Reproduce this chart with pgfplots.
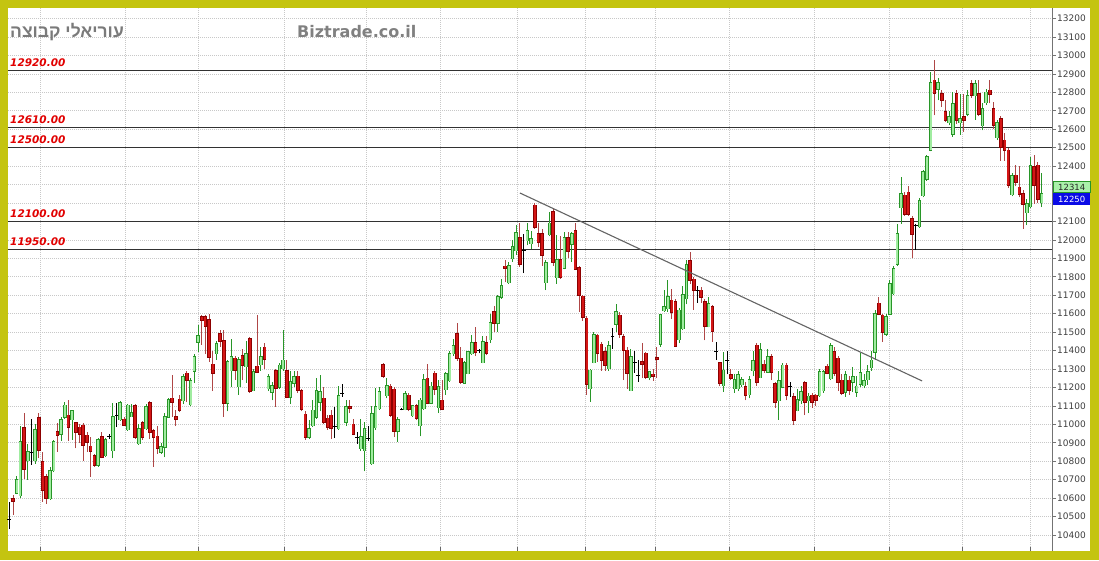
\documentclass[border=0pt]{standalone}
\usepackage{fontspec}
\setmainfont{DejaVu Sans}
\newfontfamily\hebfont[Script=Hebrew]{Liberation Sans}
\TeXXeTstate=1
\usepackage{pgfplots}
\usepackage{pgfplotstable}
\pgfplotsset{compat=1.18}

\definecolor{framec}{RGB}{196,196,16}
\definecolor{upfill}{RGB}{160,236,160}
\definecolor{upedge}{RGB}{40,150,40}
\definecolor{dnfill}{RGB}{212,22,22}
\definecolor{dnedge}{RGB}{140,0,0}
\definecolor{dnwick}{RGB}{175,70,70}
\definecolor{gridc}{RGB}{200,200,200}
\definecolor{levelc}{RGB}{50,50,50}
\definecolor{trendc}{RGB}{100,100,100}
\definecolor{labelred}{RGB}{225,0,0}
\definecolor{boxgreen}{RGB}{170,240,170}
\definecolor{boxblue}{RGB}{10,10,230}

\pgfplotsset{
  cbar/.style n args={2}{draw=none, mark=none, forget plot,
     error bars/.cd, y dir=both, y explicit, error mark=none,
     error bar style={solid, line width=#1, draw=#2}},
}

% green (up) candles: index open high low close
\pgfplotstableread{
i o h l c
2 10630 10720 10620 10700
3 10617 10990 10600 10905
5 10805 10895 10700 10850
7 10806 11000 10785 10972
11 10600 10770 10590 10750
12 10752 10915 10740 10905
14 10950 11040 10910 11027
15 11041 11120 11030 11104
17 11027 11080 10915 11073
24 10780 10925 10770 10915
26 10833 10925 10825 10918
28 10860 11115 10815 11041
30 11027 11125 11020 11116
32 10975 11110 10965 11104
33 11045 11110 11040 11062
35 10897 11000 10890 10978
37 10978 11110 10970 11095
41 10851 10900 10840 10878
42 10878 11060 10820 11044
43 11041 11140 11035 11135
47 11131 11270 11110 11257
49 11110 11250 11100 11239
50 11290 11380 11225 11366
51 11447 11540 11390 11483
56 11384 11450 11350 11438
59 11117 11350 11070 11338
60 11294 11460 11200 11366
62 11207 11365 11160 11352
64 11315 11450 11225 11384
66 11185 11300 11180 11285
68 11326 11420 11290 11366
70 11195 11270 11180 11257
71 11176 11230 11130 11212
73 11203 11330 11190 11321
74 11303 11510 11290 11348
76 11149 11290 11110 11230
77 11225 11290 11200 11261
81 10932 11025 10920 10978
82 10996 11130 10985 11077
83 11041 11250 11030 11182
84 11122 11267 11070 11176
89 10978 11210 10970 11158
91 11014 11130 10990 11095
95 10870 11030 10855 10932
96 10860 11010 10745 10978
98 10788 11100 10780 11059
99 10983 11195 10970 11095
100 11086 11200 11080 11176
102 11158 11250 11140 11212
105 10965 11040 10905 11027
107 11081 11180 11075 11167
109 11050 11105 11040 11099
111 10996 11140 10935 11131
112 11086 11270 11080 11243
114 11117 11230 11110 11207
116 11092 11240 11060 11203
118 11189 11285 11160 11276
119 11239 11395 11230 11384
120 11384 11460 11370 11429
123 11225 11345 11220 11333
124 11276 11400 11270 11393
125 11384 11485 11375 11441
128 11338 11480 11330 11447
130 11460 11600 11440 11550
132 11550 11700 11500 11691
133 11691 11790 11680 11754
135 11772 11880 11760 11862
136 11899 12000 11880 11961
137 11944 12080 11920 12037
140 11998 12090 11970 12052
141 11981 12050 11950 12008
145 11772 11890 11727 11875
146 12030 12150 12020 12091
148 11799 12025 11763 11893
150 11850 12040 11840 12014
152 11980 12045 11880 12034
157 11195 11300 11122 11294
158 11338 11500 11330 11488
162 11303 11450 11290 11429
164 11546 11650 11500 11609
168 11185 11410 11180 11366
173 11254 11290 11240 11285
176 11438 11600 11420 11596
177 11619 11727 11610 11636
178 11628 11780 11610 11694
181 11460 11630 11440 11619
182 11520 11750 11510 11705
183 11682 11890 11650 11868
189 11532 11690 11525 11655
193 11212 11390 11176 11294
196 11195 11270 11170 11243
197 11195 11290 11180 11267
198 11218 11255 11200 11243
200 11164 11260 11140 11243
201 11294 11400 11260 11344
203 11257 11440 11250 11406
205 11285 11410 11280 11366
208 11131 11290 11025 11239
209 11203 11335 11195 11321
213 11077 11190 11070 11135
214 11131 11210 11110 11176
216 11131 11170 11060 11153
219 11158 11300 11150 11285
220 11185 11295 11170 11285
222 11249 11440 11240 11429
226 11176 11290 11150 11267
228 11230 11310 11175 11257
229 11176 11260 11150 11207
230 11221 11385 11200 11279
231 11212 11270 11195 11239
232 11243 11320 11215 11285
233 11308 11400 11290 11348
234 11393 11620 11350 11600
237 11492 11600 11480 11582
238 11600 11780 11590 11763
239 11710 11860 11700 11846
240 11871 12088 11860 12032
241 12178 12340 12088 12251
246 12073 12225 12065 12214
247 12241 12380 12230 12368
248 12332 12460 12320 12449
249 12489 12909 12480 12855
251 12819 12880 12756 12855
254 12638 12700 12620 12666
255 12576 12800 12560 12738
257 12638 12790 12570 12657
259 12684 12810 12670 12783
261 12783 12865 12650 12846
263 12621 12740 12593 12711
264 12747 12820 12730 12801
267 12557 12650 12540 12638
271 12247 12360 12235 12350
275 12151 12220 12080 12196
276 12182 12450 12170 12404
279 12205 12360 12178 12251
}\upT

% red (down) candles: index open high low close
\pgfplotstableread{
i o h l c
1 10597 10617 10510 10585
4 10980 11060 10705 10760
8 11035 11060 10815 10860
9 10797 10850 10580 10645
10 10716 10730 10570 10600
13 10960 11005 10850 10942
16 11050 11130 10910 10987
18 11008 11015 10870 10960
19 10985 11000 10900 10950
20 10995 11005 10800 10890
21 10940 10960 10850 10905
22 10880 10930 10715 10857
23 10830 10840 10770 10780
25 10932 10960 10815 10825
31 11027 11040 10990 10996
34 11100 11110 10920 10932
36 11008 11020 10915 10932
38 11116 11125 10920 10960
39 10965 10975 10770 10932
40 10936 10990 10840 10870
44 11140 11265 11040 11122
45 11040 11077 10990 11030
46 11135 11160 11065 11077
48 11276 11290 11120 11239
52 11582 11590 11430 11565
53 11582 11590 11380 11532
54 11568 11600 11340 11366
55 11326 11400 11180 11276
57 11492 11510 11420 11452
58 11452 11510 11040 11117
61 11357 11370 11240 11294
63 11370 11410 11240 11321
65 11465 11475 11170 11182
67 11315 11590 11280 11285
69 11417 11440 11300 11352
72 11290 11300 11095 11195
75 11290 11350 11140 11150
78 11261 11290 11170 11185
79 11182 11190 11070 11081
80 11055 11070 10915 10932
85 11140 11200 11000 11014
86 11032 11050 10970 10987
87 11050 11080 10920 10978
92 11095 11130 11060 11088
93 11001 11030 10940 10947
101 11324 11335 11250 11261
103 11207 11220 11040 11050
104 11190 11200 10930 10965
108 11158 11170 11070 11081
110 11099 11110 11025 11032
113 11249 11325 11110 11117
115 11276 11290 11160 11189
117 11131 11240 11075 11081
121 11492 11550 11345 11357
122 11357 11420 11220 11230
126 11441 11530 11370 11393
129 11441 11480 11375 11384
131 11609 11640 11500 11550
134 11857 11890 11770 11850
138 12010 12090 11855 11870
142 12187 12200 12060 12070
143 12034 12090 11960 11990
144 12034 12060 11860 11916
147 12151 12165 11860 11880
149 11893 12020 11790 11799
151 12012 12040 11900 11940
153 12048 12090 11840 11844
154 11850 11860 11610 11700
155 11694 11700 11560 11582
156 11574 11585 11160 11218
159 11483 11490 11340 11384
160 11434 11445 11290 11348
161 11393 11420 11290 11321
165 11591 11610 11470 11492
166 11474 11490 11240 11402
167 11402 11420 11190 11276
171 11338 11440 11250 11326
172 11384 11390 11245 11254
174 11272 11300 11235 11262
175 11362 11420 11250 11352
179 11673 11735 11570 11609
180 11664 11680 11420 11424
184 11886 11935 11760 11781
185 11785 11800 11620 11727
187 11727 11745 11660 11688
188 11664 11680 11455 11532
190 11636 11645 11447 11507
192 11333 11340 11205 11225
195 11267 11300 11240 11249
199 11203 11230 11130 11158
202 11429 11440 11210 11230
204 11326 11350 11280 11297
206 11366 11380 11240 11285
207 11221 11230 11090 11122
210 11321 11330 11130 11158
212 11149 11170 10995 11023
215 11225 11235 11050 11122
217 11158 11170 11090 11122
218 11158 11165 11100 11131
221 11315 11325 11270 11276
223 11393 11420 11260 11276
224 11357 11370 11180 11230
225 11239 11270 11160 11171
227 11239 11260 11160 11185
235 11655 11690 11590 11600
236 11590 11600 11447 11500
242 12241 12260 12130 12142
243 12259 12290 12130 12142
244 12115 12130 11900 12034
250 12864 12975 12675 12795
252 12792 12810 12720 12756
253 12693 12760 12640 12648
256 12792 12810 12630 12648
258 12666 12790 12585 12648
260 12846 12865 12770 12783
262 12792 12865 12670 12684
265 12810 12868 12740 12792
266 12711 12750 12600 12621
268 12657 12670 12430 12503
269 12539 12580 12430 12485
270 12485 12500 12280 12296
272 12350 12405 12290 12313
273 12286 12400 12230 12251
274 12251 12270 12060 12193
277 12395 12458 12196 12296
278 12404 12420 12200 12220
}\dnT

% doji candles: index open(=close) high low
\pgfplotstableread{
i o h l
0 10485 10580 10435
6 10846 11030 10780
27 10932 10945 10920
29 11046 11115 10985
88 10990 11095 10925
90 11167 11220 11150
94 10929 10960 10895
97 10924 10990 10910
106 11081 11090 11075
127 11398 11410 11385
139 11940 12030 11820
163 11478 11520 11410
169 11333 11400 11280
170 11267 11350 11230
186 11727 11750 11660
191 11393 11447 11348
194 11344 11400 11270
211 11203 11230 11150
245 12079 12085 11944
}\djT

\begin{document}
\begin{tikzpicture}
\useasboundingbox (0,0) rectangle (1099pt,560pt);
\fill[framec] (0,0) rectangle (1099pt,560pt);
\fill[white] (8pt,9pt) rectangle (1090pt,552pt);

\begin{axis}[
  at={(8pt,9pt)}, anchor=south west,
  scale only axis, width=1044pt, height=543pt,
  xmin=-0.35, xmax=281.8, ymin=10313, ymax=13257,
  axis line style={draw=none},
  xtick={8.3,31.3,51,74.2,96.4,116.4,137.2,155.6,174.5,194.5,217.5,237.8,257.5,275.9},
  xticklabels={},
  xtick pos=left, xtick align=inside,
  xtick style={draw=black!60, line width=0.6pt},
  ytick={10400,10500,...,12100,12400,12500,...,13200},
  extra y ticks={12200,12300},
  extra y tick labels={},
  extra y tick style={grid=major},
  ytick pos=right, ytick align=outside,
  yticklabel pos=right,
  minor y tick num=1,
  ytick style={draw=black!55, line width=0.6pt},
  major tick length=4pt, minor tick length=2pt,
  grid=major,
  major grid style={draw=gridc, dash pattern=on 1pt off 1pt, line width=0.6pt},
  scaled y ticks=false,
  /pgf/number format/assume math mode=true,
  yticklabel style={font=\fontsize{9}{9}\selectfont, text=black!75, inner sep=1pt,
     /pgf/number format/1000 sep={}},
]
% level lines
\addplot[levelc, line width=1pt, forget plot] coordinates {(-0.35,12920) (281.8,12920)};
\addplot[levelc, line width=1pt, forget plot] coordinates {(-0.35,12610) (281.8,12610)};
\addplot[levelc, line width=1pt, forget plot] coordinates {(-0.35,12500) (281.8,12500)};
\addplot[levelc, line width=1pt, forget plot] coordinates {(-0.35,12100) (281.8,12100)};
\addplot[levelc, line width=1pt, forget plot] coordinates {(-0.35,11950) (281.8,11950)};

% wicks
\addplot[cbar={0.9pt}{upedge}] table[x=i, y=l, y error plus expr=\thisrow{h}-\thisrow{l}, y error minus expr=0] {\upT};
\addplot[cbar={0.9pt}{dnwick}] table[x=i, y=l, y error plus expr=\thisrow{h}-\thisrow{l}, y error minus expr=0] {\dnT};
\addplot[cbar={0.9pt}{black}] table[x=i, y=l, y error plus expr=\thisrow{h}-\thisrow{l}, y error minus expr=0] {\djT};
% bodies
\addplot[cbar={3.6pt}{upedge}] table[x=i, y=o, y error plus expr=\thisrow{c}-\thisrow{o}+3, y error minus expr=3] {\upT};
\addplot[cbar={1.8pt}{upfill}] table[x=i, y=o, y error plus expr=\thisrow{c}-\thisrow{o}-2, y error minus expr=-2] {\upT};
\addplot[cbar={3.6pt}{dnedge}] table[x=i, y=c, y error plus expr=\thisrow{o}-\thisrow{c}+3, y error minus expr=3] {\dnT};
\addplot[cbar={2.0pt}{dnfill}] table[x=i, y=c, y error plus expr=\thisrow{o}-\thisrow{c}, y error minus expr=0] {\dnT};
\addplot[only marks, mark=-, mark size=1.9pt, mark options={black, line width=1pt}, forget plot] table[x=i, y=o] {\djT};

% trend line
\addplot[trendc, line width=1.1pt, forget plot] coordinates {(138,12254) (246.7,11235)};

% level labels
\foreach \v in {12920,12610,12500,12100,11950}{
  \edef\tmp{\noexpand\node[anchor=base west, inner sep=0pt, yshift=4pt, text=labelred,
     font=\noexpand\fontsize{10.5}{10.5}\noexpand\selectfont\noexpand\bfseries\noexpand\itshape]
     at (axis cs:0.2,\v) {\v.00};}
  \tmp
}
\end{axis}

% right axis line
\draw[black!55, line width=1pt] (1052pt,9pt) -- (1052pt,552pt);

% titles
\node[anchor=base west, inner sep=0pt, text=black!52] at (10pt,522pt)
  {\hebfont\bfseries\fontsize{17.5}{17.5}\selectfont\beginR עוריאלי קבוצה\endR};
\node[anchor=base west, inner sep=0pt, text=black!50] at (297pt,522pt)
  {\bfseries\fontsize{16}{16}\selectfont Biztrade.co.il};

% last price boxes
\node[anchor=north west, fill=boxgreen, draw=upedge, line width=0.5pt, minimum width=37pt, minimum height=11.5pt, inner sep=0pt,
  font=\fontsize{8.5}{8.5}\selectfont, text=black!85] at (1053pt,379pt) {12314};
\node[anchor=north west, fill=boxblue, minimum width=37pt, minimum height=12pt, inner sep=0pt,
  font=\fontsize{8.5}{8.5}\selectfont, text=white] at (1053pt,367pt) {12250};
\end{tikzpicture}
\end{document}
